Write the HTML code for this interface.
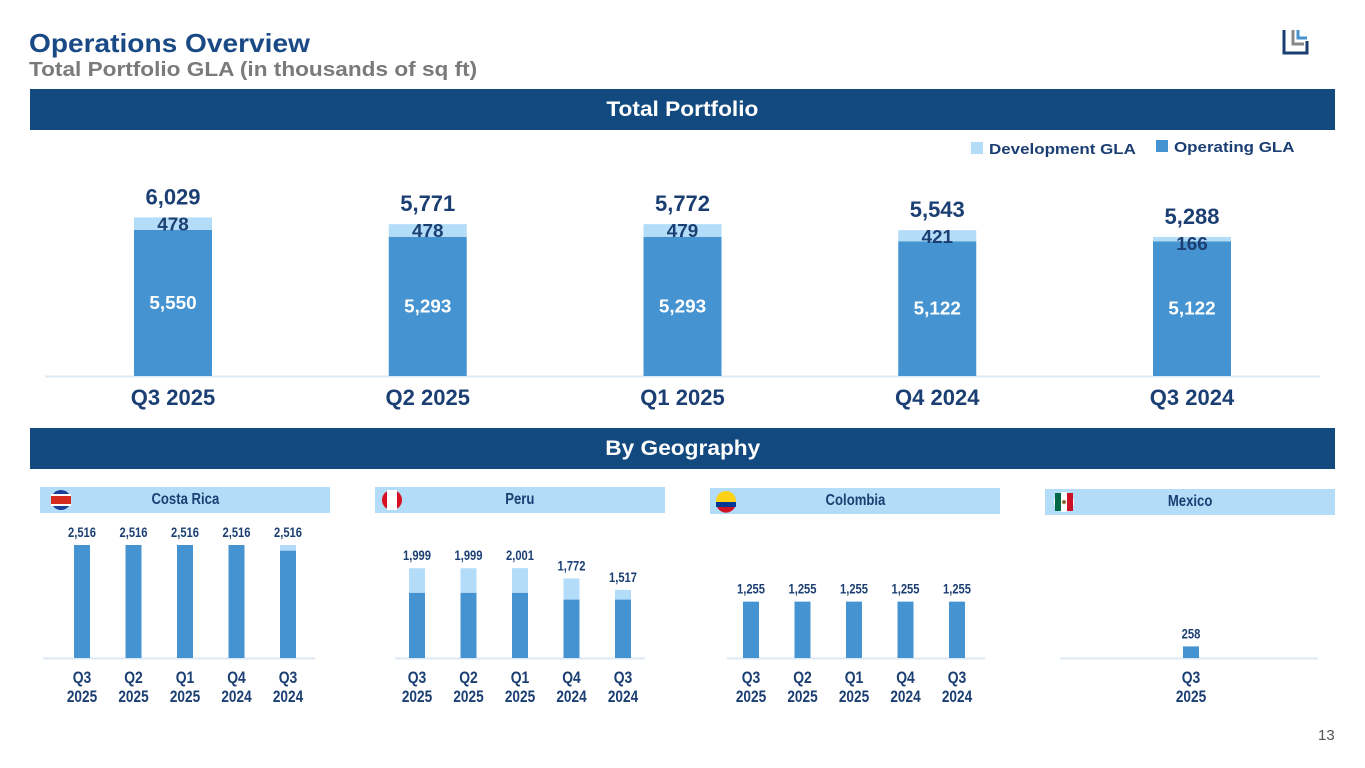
<!DOCTYPE html>
<html><head><meta charset="utf-8"><style>
body{margin:0;width:1365px;height:768px;background:#fff;font-family:"Liberation Sans",Arial,sans-serif;overflow:hidden;position:relative}
.t{position:absolute;font-weight:bold;transform-origin:0 0;white-space:nowrap}
.band{position:absolute;left:30px;width:1305px;height:41px;background:#124a80;color:#fff;font-weight:bold;font-size:21px;text-align:center;line-height:41px}
.band span{display:inline-block;transform:scaleX(1.08)}
.hdr{position:absolute;height:26px;background:#b3dcf8;color:#1b3f73;font-weight:bold;font-size:16px;text-align:center;line-height:26px}
.hdr span{display:inline-block;transform:scaleX(0.82)}
svg{position:absolute;left:0;top:0}
</style></head><body>
<div class="t" style="left:29px;top:28px;font-size:26px;color:#1a4a85;transform:scaleX(1.08)">Operations Overview</div>
<div class="t" style="left:29px;top:59px;font-size:20px;color:#7a7a7a;transform:scaleX(1.13)">Total Portfolio GLA (in thousands of sq ft)</div>
<svg width="1365" height="768">
<g fill="none" stroke-width="3">
<path d="M1284 30 V53 H1307 V41" stroke="#1b3f73"/><path d="M1293 30 V44 H1304" stroke="#888"/><path d="M1298 30 V38 H1307" stroke="#4593d1"/></g></svg>
<div class="band" style="top:89px"><span>Total Portfolio</span></div>
<div class="band" style="top:428px"><span>By Geography</span></div>
<div class="hdr" style="left:40px;top:487px;width:290px"><span>Costa Rica</span></div>
<div class="hdr" style="left:375px;top:487px;width:290px"><span>Peru</span></div>
<div class="hdr" style="left:710px;top:488px;width:290px"><span>Colombia</span></div>
<div class="hdr" style="left:1045px;top:489px;width:290px"><span>Mexico</span></div>
<div class="t" style="left:1318px;top:727px;font-size:15px;font-weight:normal;color:#555">13</div>
<svg id="c" width="1365" height="768">
<g>
<circle cx="61" cy="500" r="10" fill="#1b3f9a"/><rect x="51" y="496" width="20" height="8" fill="#d52b1e"/><rect x="51" y="494" width="20" height="2" fill="#fff"/><rect x="51" y="504" width="20" height="2" fill="#fff"/>
<circle cx="392" cy="500" r="10" fill="#d91023"/><rect x="387" y="490" width="10" height="20" fill="#fff"/>
<circle cx="726" cy="501" r="10" fill="#fcd116"/><rect x="716" y="502" width="20" height="5" fill="#003893"/><path d="M717 507 h18 a10 10 0 0 1 -18 0z" fill="#ce1126"/>
<circle cx="1064" cy="502" r="10" fill="#fff"/><rect x="1055" y="493" width="6" height="18" fill="#006847"/><rect x="1067" y="493" width="6" height="18" fill="#ce1126"/><circle cx="1064" cy="502" r="2" fill="#8a6d3b"/>
</g>
<g>
<rect x="971" y="142" width="12" height="12" fill="#b3dcf8"/><text id="lg1" x="989" y="154" font-size="15" font-weight="bold" fill="#1b3f73">Development GLA</text>
<rect x="1156" y="140" width="12" height="12" fill="#4593d1"/><text id="lg2" x="1174" y="152" font-size="15" font-weight="bold" fill="#1b3f73">Operating GLA</text>
</g>
</svg>
<script>
const mainCats=["Q3 2025","Q2 2025","Q1 2025","Q4 2024","Q3 2024"];
const mainOp=[5550,5293,5293,5122,5122];
const mainDev=[478,478,479,421,166];
const mainTotal=[6029,5771,5772,5543,5288];
const smallCats=[["Q3","2025"],["Q2","2025"],["Q1","2025"],["Q4","2024"],["Q3","2024"]];
const crOp=[2516,2516,2516,2516,2390];
const crTotal=[2516,2516,2516,2516,2516];
const peOp=[1450,1450,1450,1300,1300];
const peTotal=[1999,1999,2001,1772,1517];
const coOp=[1255,1255,1255,1255,1255];
const coTotal=[1255,1255,1255,1255,1255];
const mxCats=[["Q3","2025"]];
const mxOp=[258];
const mxTotal=[258];

const svg=document.getElementById('c');
const NS='http://www.w3.org/2000/svg';
function mk(tag,attrs,parent){const e=document.createElementNS(NS,tag);for(const k in attrs)e.setAttribute(k,attrs[k]);(parent||svg).appendChild(e);return e;}
function stretch(e,f){const l=e.getComputedTextLength();if(l>0){e.setAttribute('textLength',(l*f).toFixed(1));e.setAttribute('lengthAdjust','spacingAndGlyphs');}}
function txt(x,y,s,size,fill,parent,f){const e=mk('text',{x:x,y:y,'font-size':size,'font-weight':'bold',fill:fill,'text-anchor':'middle'},parent);e.textContent=s;if(f)stretch(e,f);return e;}
const fmt=v=>v.toLocaleString('en-US');
stretch(document.getElementById('lg1'),1.13);
stretch(document.getElementById('lg2'),1.13);

// main chart
const base=376, k=146/5550, x0=173, step=254.75, bw=78;
const mx=i=>x0+i*step;
const my=v=>base-v*k;
const g=mk('g',{});


const ax=mk('line',{x1:45,x2:1320,y1:base+0.5,y2:base+0.5,stroke:'#dce9f5','stroke-width':2},g);


mainCats.forEach((c,i)=>{
  const x=mx(i), opTop=my(mainOp[i]), devTop=my(mainOp[i]+mainDev[i]);
  const r1=mk('rect',{x:x-bw/2,y:opTop,width:bw,height:base-opTop,fill:'#4593d1'},g);
  
  
  const r2=mk('rect',{x:x-bw/2,y:devTop,width:bw,height:opTop-devTop,fill:'#b3dcf8'},g);
  
  
  txt(x,(opTop+base)/2+6,fmt(mainOp[i]),18,'#fff',g,1.05);
  txt(x,devTop+13,fmt(mainDev[i]),18,'#1b3f73',g,1.05);
  txt(x,devTop-13,fmt(mainTotal[i]),22,'#1b3f73',g);
  const l=txt(x,405,c,22,'#1b3f73',g);
  
  
});

// small charts
const sb=658, sk=113/2516, sw=16;
function small(name,cats,op,tot,cx0,axL,axR){
  const gg=mk('g',{});
  
  
  mk('line',{x1:axL,x2:axR,y1:sb+0.5,y2:sb+0.5,stroke:'#dce9f5','stroke-width':2},gg);
  cats.forEach((c,i)=>{
    const x=cx0+i*51.5, ot=sb-op[i]*sk, tt=sb-tot[i]*sk;
    if(tot[i]>op[i]){const d=mk('rect',{x:x-sw/2,y:tt,width:sw,height:ot-tt,fill:'#b3dcf8'},gg);
      
      }
    const r=mk('rect',{x:x-sw/2,y:ot,width:sw,height:sb-ot,fill:'#4593d1'},gg);
    
    
    txt(x,tt-8,fmt(tot[i]),14,'#1b3f73',gg,0.8);
    txt(x,683,c[0],17,'#1b3f73',gg,0.82);
    txt(x,702,c[1],17,'#1b3f73',gg,0.8);
  });
}
small('costa-rica',smallCats,crOp,crTotal,82,43,315);
small('peru',smallCats,peOp,peTotal,417,395,645);
small('colombia',smallCats,coOp,coTotal,751,727,985);
small('mexico',mxCats,mxOp,mxTotal,1191,1060,1318);
</script>
</body></html>
